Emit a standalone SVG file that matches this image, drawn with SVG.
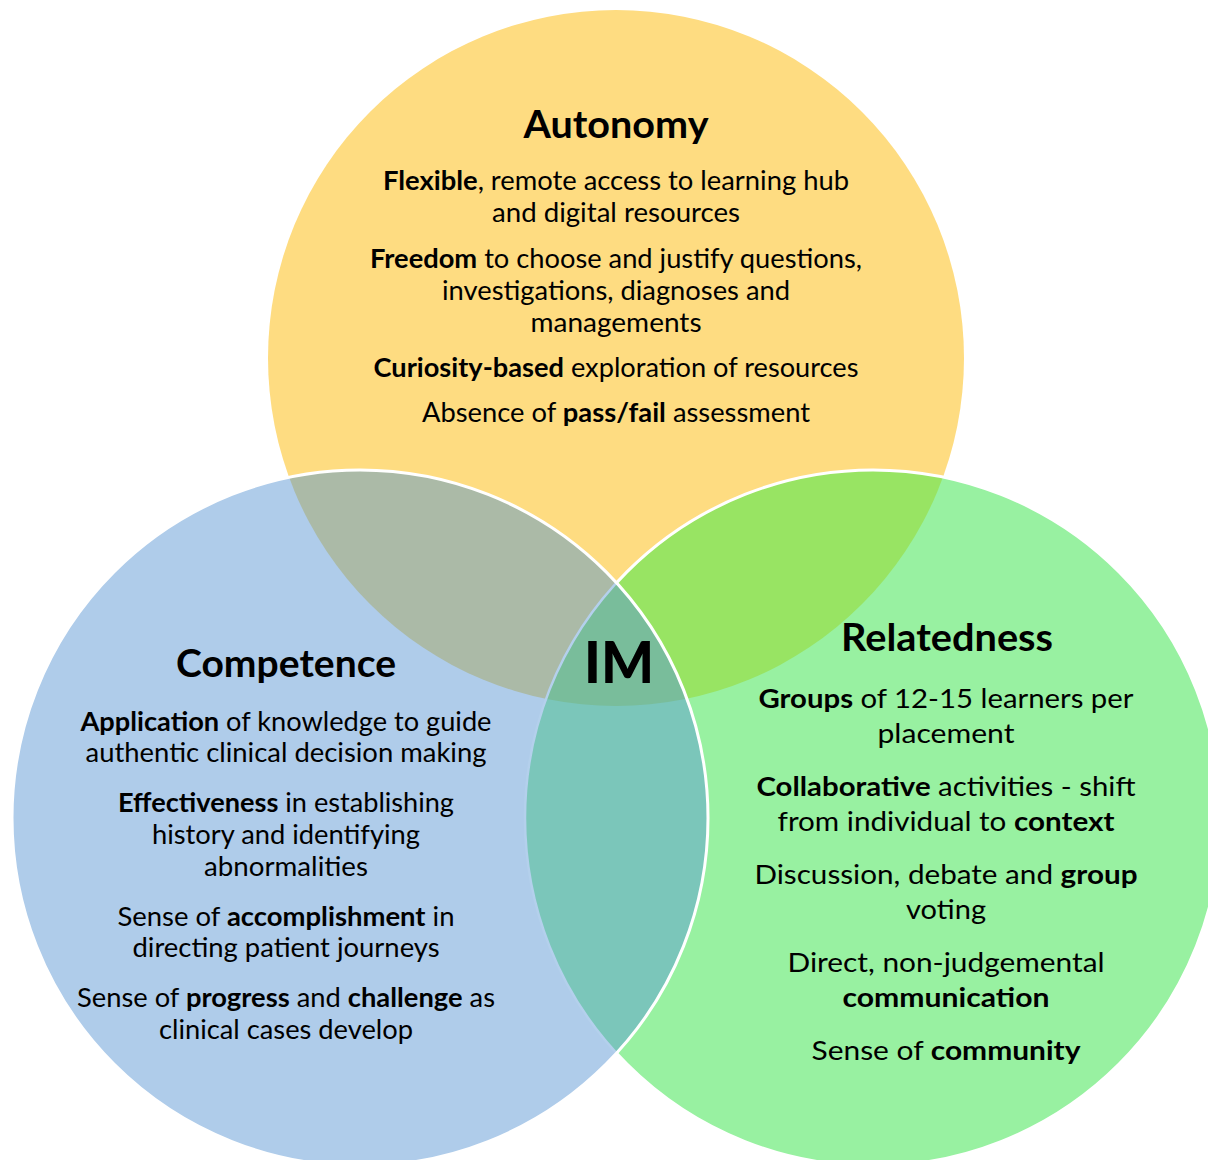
<svg xmlns="http://www.w3.org/2000/svg" width="1208" height="1160" viewBox="0 0 1208 1160">
<style>
text{font-family:Lato,"Open Sans","DejaVu Sans",sans-serif;fill:#000;text-anchor:middle}
.t{font-size:38px;font-weight:700}
.b{font-size:26px;font-weight:400}
.w{font-size:27.5px;font-weight:400}
.k{font-weight:700}
.im{font-size:58px;font-weight:900}
</style>
<defs>
<clipPath id="cY"><circle cx="616" cy="358" r="348"/></clipPath>
<clipPath id="cB"><circle cx="360" cy="818" r="348"/></clipPath>
<clipPath id="cG"><circle cx="873" cy="818" r="348"/></clipPath>
</defs>
<rect width="1208" height="1160" fill="#fff"/>

<g id="autonomy">
<circle cx="616" cy="358" r="348" fill="#FEDC81"/>
<text class="t" x="616" y="138" textLength="185" lengthAdjust="spacingAndGlyphs">Autonomy</text>
<text class="b" x="616" y="190" textLength="466" lengthAdjust="spacingAndGlyphs"><tspan class="k">Flexible</tspan>, remote access to learning hub</text>
<text class="b" x="616" y="222" textLength="248" lengthAdjust="spacingAndGlyphs">and digital resources</text>
<text class="b" x="616" y="268" textLength="492" lengthAdjust="spacingAndGlyphs"><tspan class="k">Freedom</tspan> to choose and justify questions,</text>
<text class="b" x="616" y="300" textLength="348" lengthAdjust="spacingAndGlyphs">investigations, diagnoses and</text>
<text class="b" x="616" y="332" textLength="171" lengthAdjust="spacingAndGlyphs">managements</text>
<text class="b" x="616" y="377" textLength="485" lengthAdjust="spacingAndGlyphs"><tspan class="k">Curiosity-based</tspan> exploration of resources</text>
<text class="b" x="616" y="422" textLength="388" lengthAdjust="spacingAndGlyphs">Absence of <tspan class="k">pass/fail</tspan> assessment</text>
</g>

<g id="relatedness">
<circle cx="873" cy="818" r="348" fill="#98F1A1"/>
<circle cx="873" cy="818" r="348" fill="#98E463" clip-path="url(#cY)"/>
<circle cx="873" cy="818" r="348" fill="none" stroke="#fff" stroke-width="3"/>
<text class="t" x="947" y="651" textLength="212" lengthAdjust="spacingAndGlyphs">Relatedness</text>
<text class="w" x="946" y="708" textLength="375" lengthAdjust="spacingAndGlyphs"><tspan class="k">Groups</tspan> of 12-15 learners per</text>
<text class="w" x="946" y="743" textLength="137" lengthAdjust="spacingAndGlyphs">placement</text>
<text class="w" x="946" y="796" textLength="379" lengthAdjust="spacingAndGlyphs"><tspan class="k">Collaborative</tspan> activities - shift</text>
<text class="w" x="946" y="831" textLength="337" lengthAdjust="spacingAndGlyphs">from individual to <tspan class="k">context</tspan></text>
<text class="w" x="946" y="884" textLength="383" lengthAdjust="spacingAndGlyphs">Discussion, debate and <tspan class="k">group</tspan></text>
<text class="w" x="946" y="919" textLength="80" lengthAdjust="spacingAndGlyphs">voting</text>
<text class="w" x="946" y="972" textLength="317" lengthAdjust="spacingAndGlyphs">Direct, non-judgemental</text>
<text class="w" x="946" y="1007" textLength="207" lengthAdjust="spacingAndGlyphs"><tspan class="k">communication</tspan></text>
<text class="w" x="946" y="1060" textLength="269" lengthAdjust="spacingAndGlyphs">Sense of <tspan class="k">community</tspan></text>
</g>

<g id="competence">
<circle cx="360" cy="818" r="348" fill="#AFCCEA"/>
<circle cx="360" cy="818" r="348" fill="#ABBAA7" clip-path="url(#cY)"/>
<circle cx="873" cy="818" r="348" fill="#7BC6BA" clip-path="url(#cB)"/>
<g clip-path="url(#cB)"><circle cx="873" cy="818" r="348" fill="#79BD9B" clip-path="url(#cY)"/></g>
<circle cx="873" cy="818" r="348" fill="none" stroke="#B4D0EC" stroke-width="2.5" clip-path="url(#cB)"/>
<circle cx="360" cy="818" r="348" fill="none" stroke="#fff" stroke-width="3"/>
<text class="t" x="286" y="677" textLength="220" lengthAdjust="spacingAndGlyphs">Competence</text>
<text class="w" x="286" y="731" textLength="411" lengthAdjust="spacingAndGlyphs"><tspan class="k">Application</tspan> of knowledge to guide</text>
<text class="w" x="286" y="762" textLength="401" lengthAdjust="spacingAndGlyphs">authentic clinical decision making</text>
<text class="w" x="286" y="812" textLength="336" lengthAdjust="spacingAndGlyphs"><tspan class="k">Effectiveness</tspan> in establishing</text>
<text class="w" x="286" y="844" textLength="268" lengthAdjust="spacingAndGlyphs">history and identifying</text>
<text class="w" x="286" y="876" textLength="164" lengthAdjust="spacingAndGlyphs">abnormalities</text>
<text class="w" x="286" y="926" textLength="337" lengthAdjust="spacingAndGlyphs">Sense of <tspan class="k">accomplishment</tspan> in</text>
<text class="w" x="286" y="957" textLength="307" lengthAdjust="spacingAndGlyphs">directing patient journeys</text>
<text class="w" x="286" y="1007" textLength="418" lengthAdjust="spacingAndGlyphs">Sense of <tspan class="k">progress</tspan> and <tspan class="k">challenge</tspan> as</text>
<text class="w" x="286" y="1039" textLength="254" lengthAdjust="spacingAndGlyphs">clinical cases develop</text>
</g>

<g id="im">
<text class="im" x="619" y="683" textLength="70" lengthAdjust="spacingAndGlyphs">IM</text>
</g>
</svg>
